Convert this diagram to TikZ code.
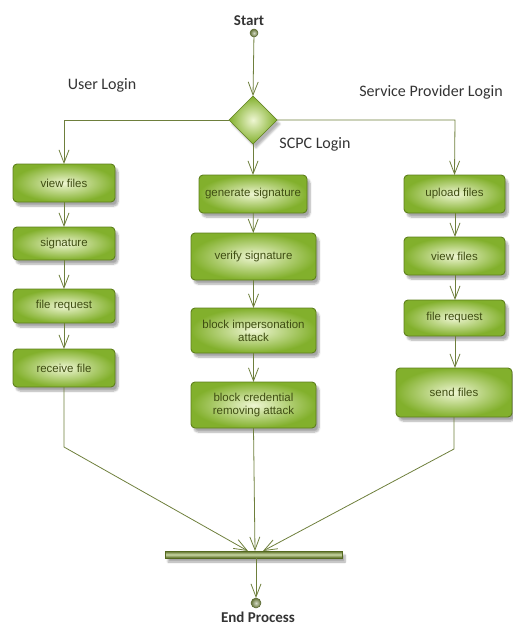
\documentclass[tikz,border=0pt]{standalone}
\usepackage{fontspec}
\setmainfont{Carlito}
\newfontfamily\boxfont{Liberation Sans}
\usetikzlibrary{arrows.meta,shapes.geometric,shadows.blur,calc}
\definecolor{lineol}{HTML}{6E7F3C}
\definecolor{boxborder}{HTML}{5E7F1C}
\definecolor{boxouter}{HTML}{82B02C}
\definecolor{boxinner}{HTML}{EEF6D2}
\definecolor{boxtext}{HTML}{3F4D12}
\definecolor{bardark}{HTML}{55691F}
\definecolor{barlight}{HTML}{C9D7A4}
\begin{document}
\begin{tikzpicture}[x=1pt,y=-1pt,
  every node/.style={inner sep=0pt,outer sep=0pt},
  activity/.style={draw=boxborder,line width=0.9pt,rounded corners=4pt,
    inner color=boxinner,outer color=boxouter,
    blur shadow={shadow xshift=3pt,shadow yshift=-4pt,shadow blur steps=6,shadow opacity=35},
    font=\boxfont\fontsize{11.5}{13}\selectfont,text=boxtext,align=center},
  flow/.style={draw=lineol,line width=0.8pt,-{Straight Barb[length=13pt,width=10pt,line width=0.8pt]}},
  label/.style={font=\fontsize{16}{18}\selectfont,text=black!80},
  ball/.style={circle,draw=lineol!80!black,line width=0.5pt,inner color=lineol!30,outer color=lineol!90!black}
]
\useasboundingbox (0,0) rectangle (513,626);

% start / end
\node[ball,minimum size=8pt] (start) at (254,33) {};
\node[label,font=\bfseries\fontsize{15}{18}\selectfont] (startlbl) at (249,21) {Start};

\node[diamond,aspect=1,minimum width=48pt,minimum height=48pt,draw=boxborder,line width=0.6pt,
  inner color=boxinner,outer color=boxouter,
  blur shadow={shadow xshift=3pt,shadow yshift=-4pt,shadow blur steps=6,shadow opacity=30}] (dec) at (253,120) {};

\node[label] (ul) at (102,85) {User Login};
\node[label] (spl) at (431,92) {Service Provider Login};
\node[label] (scpc) at (315,144) {SCPC Login};

% left column
\node[activity,minimum width=102pt,minimum height=38pt] (l1) at (64,183) {view files};
\node[activity,minimum width=102pt,minimum height=33pt] (l2) at (64,243.5) {signature};
\node[activity,minimum width=102pt,minimum height=34pt] (l3) at (64,306) {file request};
\node[activity,minimum width=102pt,minimum height=38pt] (l4) at (64,368) {receive file};

% middle column
\node[activity,minimum width=108pt,minimum height=38pt] (m1) at (253,194) {generate signature};
\node[activity,minimum width=125pt,minimum height=47pt] (m2) at (253.5,256.5) {verify signature};
\node[activity,minimum width=125pt,minimum height=45pt] (m3) at (253.5,330.5) {block impersonation\\attack};
\node[activity,minimum width=125pt,minimum height=46pt] (m4) at (253.5,405) {block credential\\removing attack};

% right column
\node[activity,minimum width=101pt,minimum height=38pt] (r1) at (454.5,194) {upload files};
\node[activity,minimum width=101pt,minimum height=38pt] (r2) at (454.5,256) {view files};
\node[activity,minimum width=101pt,minimum height=36pt] (r3) at (454.5,318) {file request};
\node[activity,minimum width=116pt,minimum height=49pt] (r4) at (454,392.5) {send files};

% join bar and end
\node[minimum width=177pt,minimum height=7pt,draw=bardark,line width=0.4pt,
  top color=bardark,bottom color=bardark,middle color=barlight,
  blur shadow={shadow xshift=3pt,shadow yshift=-4pt,shadow blur steps=6,shadow opacity=35}] (bar) at (253.5,554.5) {};
\node[ball,minimum size=10pt] (end) at (256,603) {};
\node[label,font=\bfseries\fontsize{15}{18}\selectfont] (endlbl) at (258,617.5) {End Process};

\coordinate (lturn) at (64,120);
\coordinate (rturn) at (455,120);
\coordinate (lbend) at (64,447);
\coordinate (rbend) at (454,449);
\coordinate (jl) at (248,551);
\coordinate (jm) at (255,551);
\coordinate (jr) at (263,551);

% connectors
\draw[flow] (start) -- (dec.north);
\draw[flow] (dec.west) -- (lturn) -- (l1.north);
\draw[flow] (dec.east) -- (rturn) -- (r1.north);
\draw[flow] (dec.south) -- (m1.north);
\draw[flow] (l1) -- (l2);
\draw[flow] (l2) -- (l3);
\draw[flow] (l3) -- (l4);
\draw[flow] (m1) -- (m2);
\draw[flow] (m2) -- (m3);
\draw[flow] (m3) -- (m4);
\draw[flow] (r1.south -| rturn) -- (r2.north -| rturn);
\draw[flow] (r2.south -| rturn) -- (r3.north -| rturn);
\draw[flow] (r3.south -| rturn) -- (r4.north -| rturn);
\draw[flow] (l4.south) -- (lbend) -- (jl);
\draw[flow] (m4.south) -- (jm);
\draw[flow] (r4.south) -- (rbend) -- (jr);
\draw[flow] (bar.south -| end) -- (end.north);
\end{tikzpicture}
\end{document}
